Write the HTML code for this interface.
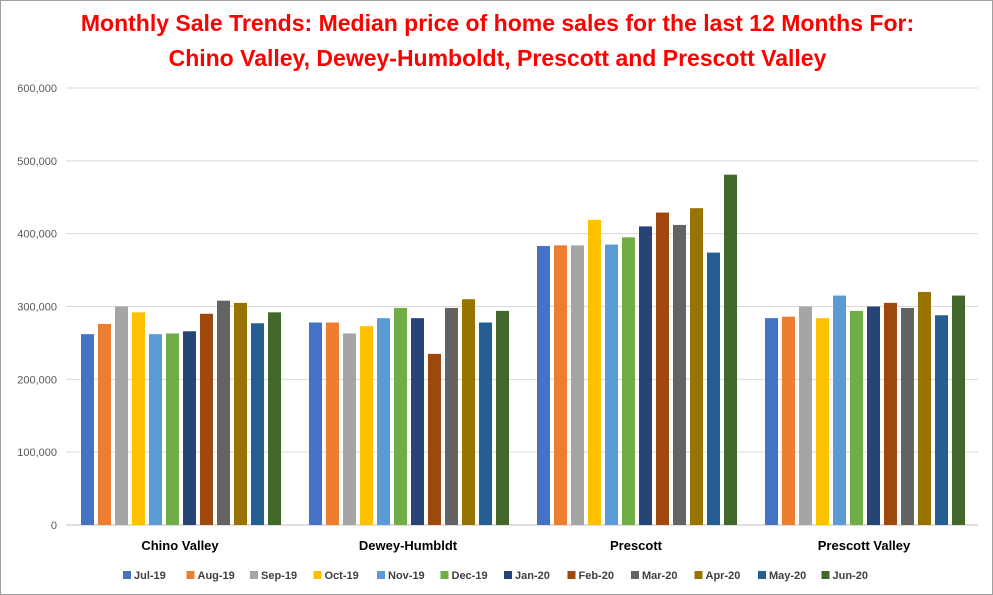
<!DOCTYPE html>
<html><head><meta charset="utf-8"><style>
body{margin:0;background:#fff;}
#wrap{position:relative;width:991px;height:593px;border:1px solid #a0a0a0;font-family:"Liberation Sans",sans-serif;overflow:hidden;}
.t{position:absolute;left:0;width:993px;text-align:center;color:#ff0000;font-weight:bold;font-size:23px;}
</style></head><body>
<div id="wrap">
<div class="t" style="top:9px">Monthly Sale Trends: Median price of home sales for the last 12 Months For:</div>
<div class="t" style="top:44px">Chino Valley, Dewey-Humboldt, Prescott and Prescott Valley</div>
<svg id="c" width="993" height="595" style="position:absolute;left:-1px;top:-1px"></svg>
</div>
<script>
const categories=["Chino Valley","Dewey-Humbldt","Prescott","Prescott Valley"];
const seriesNames=["Jul-19","Aug-19","Sep-19","Oct-19","Nov-19","Dec-19","Jan-20","Feb-20","Mar-20","Apr-20","May-20","Jun-20"];
const colors=["#4472c4","#ed7d31","#a5a5a5","#ffc000","#5b9bd5","#70ad47","#264478","#9e480e","#636363","#997300","#255e91","#43682b"];
const chinoValues=[262000,276000,300000,292000,262000,263000,266000,290000,308000,305000,277000,292000];
const deweyValues=[278000,278000,263000,273000,284000,298000,284000,235000,298000,310000,278000,294000];
const prescottValues=[383000,384000,384000,419000,385000,395000,410000,429000,412000,435000,374000,481000];
const pvValues=[284000,286000,300000,284000,315000,294000,300000,305000,298000,320000,288000,315000];
const groupValues=[chinoValues,deweyValues,prescottValues,pvValues];
const yTicks=[0,100000,200000,300000,400000,500000,600000];
const tickLabels=["0","100,000","200,000","300,000","400,000","500,000","600,000"];
const NS="http://www.w3.org/2000/svg",svg=document.getElementById('c');
const x0=66,catW=228,yBase=525,yTop=88,yMax=600000;
const y=v=>yBase-v/yMax*(yBase-yTop);
function mk(t,a){const e=document.createElementNS(NS,t);for(const k in a)e.setAttribute(k,a[k]);svg.appendChild(e);return e;}
yTicks.forEach((v,i)=>{
  const l=mk('line',{x1:x0,x2:x0+catW*4,y1:y(v),y2:y(v),stroke:i?'#d9d9d9':'#bfbfbf','stroke-width':1});
  
  
  const t=mk('text',{x:57,y:y(v)+4,'text-anchor':'end','font-size':11,fill:'#595959','font-family':'Liberation Sans'});
  t.textContent=tickLabels[i];
  
  
});
const step=17,bw=13,pad=15;
categories.forEach((c,ci)=>{
  groupValues[ci].forEach((v,si)=>{
    const bx=x0+ci*catW+pad+si*step;
    const r=mk('rect',{x:bx,y:y(v),width:bw,height:yBase-y(v),fill:colors[si]});
    
    
  });
  const t=mk('text',{x:x0+ci*catW+catW/2,y:550,'text-anchor':'middle','font-size':13,'font-weight':'bold',fill:'#000','font-family':'Liberation Sans'});
  t.textContent=c;
  
  
});
let lx=123;
seriesNames.forEach((n,i)=>{
  const r=mk('rect',{x:lx,y:571,width:8,height:8,fill:colors[i]});
  
  
  const t=mk('text',{x:lx+11,y:579,'font-size':11,'font-weight':'bold',fill:'#404040','font-family':'Liberation Sans'});
  t.textContent=n;
  
  
  lx+=63.5;
});
</script>
</body></html>
